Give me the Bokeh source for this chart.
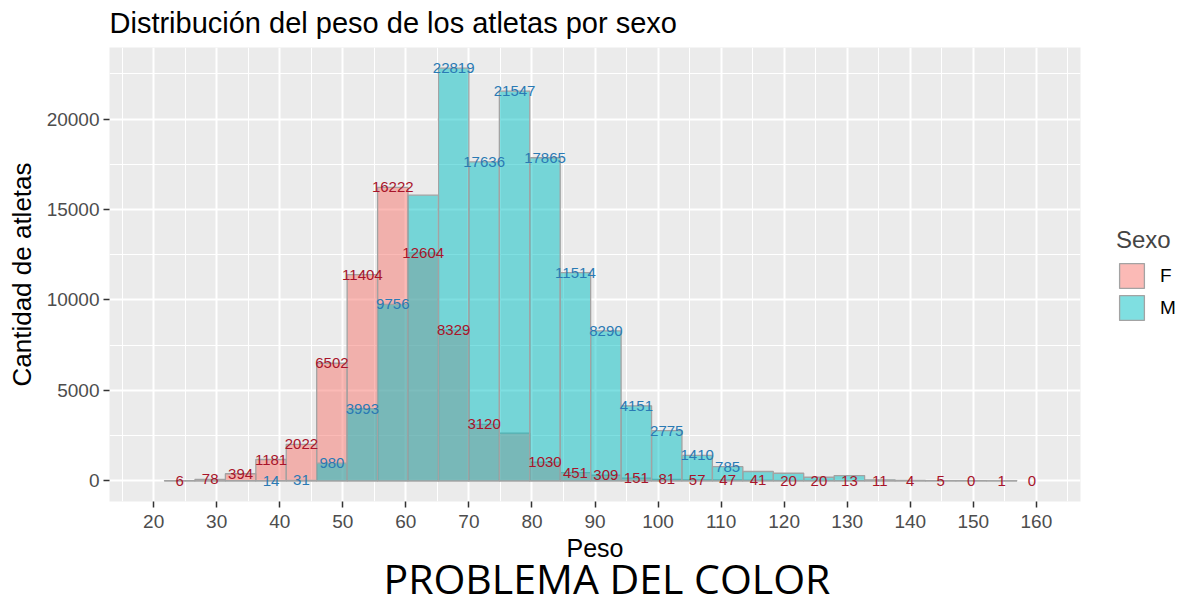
from bokeh.plotting import figure
from bokeh.models import Range1d, FixedTicker, Legend, LegendItem, ColumnDataSource, Title
from bokeh.core.properties import value
from bokeh.embed import file_html
from bokeh.resources import INLINE

# ---- data ----
TITLE = "Distribución del peso de los atletas por sexo"
X_LABEL = "Peso"
Y_LABEL = "Cantidad de atletas"
FOOTER = "PROBLEMA DEL COLOR"
SEXES = ["F", "M"]

BIN_EDGES = [21.72, 26.55, 31.38, 36.21, 41.03, 45.86, 50.69, 55.52, 60.34, 65.17,
             70.00, 74.83, 79.66, 84.48, 89.31, 94.14, 98.97, 103.79, 108.62, 113.45,
             118.28, 123.10, 127.93, 132.76, 137.59, 142.41, 147.24, 152.07, 156.90, 161.72]

F_COUNTS = [6, 78, 394, 1181, 2022, 6502, 11404, 16222, 12604, 8329,
            3120, 2644, 1030, 451, 309, 151, 81, 57, 47, 41,
            20, 20, 13, 11, 4, 5, 0, 1, 0]
M_COUNTS = [1, 3, 6, 14, 31, 980, 3993, 9756, 15794, 22819,
            17636, 21547, 17865, 11514, 8290, 4151, 2775, 1410, 785, 517,
            422, 200, 294, 55, 25, 15, 5, 3, 0]

# labels removed by overlap checking in the original chart
F_LABEL_SHOWN = [True] * 11 + [False] + [True] * 17
M_LABEL_SHOWN = [False, False, False, True, True, True, True, True, False, True,
                 True, True, True, True, True, True, True, True, True, False,
                 False, False, False, False, False, False, False, False, False]

X_LIMITS = (20, 160)
X_TICKS = [20, 30, 40, 50, 60, 70, 80, 90, 100, 110, 120, 130, 140, 150, 160]
X_MINOR = [15, 25, 35, 45, 55, 65, 75, 85, 95, 105, 115, 125, 135, 145, 155, 165]
Y_TICKS = [0, 5000, 10000, 15000, 20000]
Y_MINOR = [2500, 7500, 12500, 17500, 22500]

# ---- styling ----
F_FILL = "#F8766D"
M_FILL = "#00BFC4"
F_TEXT = "#A8142A"
M_TEXT = "#2A7AB4"
EDGE = "#A3A3A3"
FONT = "Liberation Sans"

lefts = BIN_EDGES[:-1]
rights = BIN_EDGES[1:]
centers = [(a + b) / 2 for a, b in zip(lefts, rights)]
n = len(F_COUNTS)

bar_idx = [i for i in range(n) if rights[i] <= X_LIMITS[1]]
bars = ColumnDataSource(dict(
    left=[lefts[i] for i in bar_idx],
    right=[rights[i] for i in bar_idx],
    f=[F_COUNTS[i] for i in bar_idx],
    m=[M_COUNTS[i] for i in bar_idx],
))

def label_source(counts, shown):
    idx = [i for i in range(n) if shown[i] and X_LIMITS[0] <= centers[i] <= X_LIMITS[1]]
    return ColumnDataSource(dict(
        x=[centers[i] for i in idx],
        y=[counts[i] for i in idx],
        t=[str(counts[i]) for i in idx],
    ))

ymax = max(max(F_COUNTS), max(M_COUNTS))
xspan = X_LIMITS[1] - X_LIMITS[0]

p = figure(
    frame_width=971, frame_height=454,
    min_border_left=109, min_border_right=99, min_border_top=47, min_border_bottom=98,
    x_range=Range1d(X_LIMITS[0] - 0.05 * xspan, X_LIMITS[1] + 0.05 * xspan),
    y_range=Range1d(-0.05 * ymax, 1.05 * ymax),
    output_backend="svg", toolbar_location=None,
    title=TITLE,
)
p.background_fill_color = "#EBEBEB"
p.border_fill_color = "white"
p.outline_line_color = None

p.title.text_font = FONT
p.title.text_font_size = "29px"
p.title.text_font_style = "normal"
p.title.text_color = "black"
p.title.align = "left"
p.title.vertical_align = "top"
p.title.standoff = 13

p.xaxis.ticker = FixedTicker(ticks=X_TICKS, minor_ticks=X_MINOR)
p.yaxis.ticker = FixedTicker(ticks=Y_TICKS, minor_ticks=Y_MINOR)
for ax in (p.xaxis, p.yaxis):
    ax.axis_line_color = None
    ax.major_tick_line_color = "#333333"
    ax.major_tick_line_width = 1.5
    ax.major_tick_out = 6
    ax.major_tick_in = 0
    ax.minor_tick_line_color = None
    ax.major_label_text_font = FONT
    ax.major_label_text_font_size = "19px"
    ax.major_label_text_color = "#4D4D4D"
    ax.axis_label_text_font = FONT
    ax.axis_label_text_font_style = "normal"
    ax.axis_label_text_color = "black"
p.xaxis.axis_label_text_font_size = "25px"
p.yaxis.axis_label_text_font_size = "26px"
p.xaxis.axis_label = X_LABEL
p.yaxis.axis_label = Y_LABEL
p.xaxis.major_label_standoff = 7
p.yaxis.major_label_standoff = 4
p.xaxis.axis_label_standoff = 3
p.yaxis.axis_label_standoff = 7

for g in (p.xgrid, p.ygrid):
    g.grid_line_color = "white"
    g.grid_line_width = 2
    g.minor_grid_line_color = "white"
    g.minor_grid_line_width = 1

rF = p.quad(left="left", right="right", bottom=0, top="f", source=bars,
            fill_color=F_FILL, fill_alpha=0.5, line_color=EDGE, line_width=1.3)
rM = p.quad(left="left", right="right", bottom=0, top="m", source=bars,
            fill_color=M_FILL, fill_alpha=0.5, line_color=EDGE, line_width=1.3)

for counts, shown, col in ((F_COUNTS, F_LABEL_SHOWN, F_TEXT), (M_COUNTS, M_LABEL_SHOWN, M_TEXT)):
    p.text(x="x", y="y", text="t", source=label_source(counts, shown),
           text_align="center", text_baseline="middle", text_color=col,
           text_font=value(FONT), text_font_size="15px")

legend = Legend(
    items=[LegendItem(label=SEXES[0], renderers=[rF]), LegendItem(label=SEXES[1], renderers=[rM])],
    location=(36, 178), title="Sexo",
    title_text_font=FONT, title_text_font_size="24px", title_text_font_style="normal",
    label_text_font=FONT, label_text_font_size="19px", label_text_color="black",
    glyph_width=31, glyph_height=31, spacing=1, padding=0, margin=0,
    label_standoff=13, title_standoff=6, label_width=16,
    border_line_color=None, background_fill_alpha=0,
)
p.add_layout(legend, "right")

# footer caption under the axis title; the negative standoff lets it sit close
# to the axis title without making the figure taller than the window
p.add_layout(Title(text=FOOTER, align="left", offset=274, vertical_align="middle",
                   standoff=-32, text_font="Open Sans", text_font_size="41px",
                   text_font_style="normal", text_color="black"), "below")

open("out.html", "w").write(file_html(p, INLINE))
